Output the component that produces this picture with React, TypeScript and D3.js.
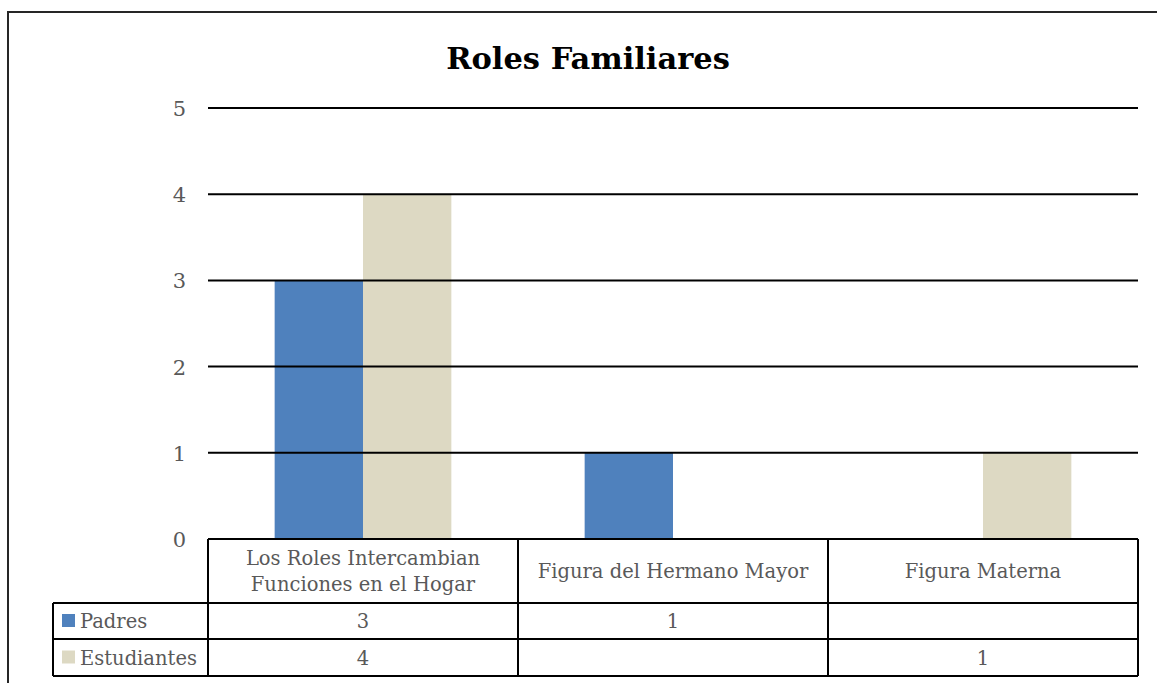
import React, { useEffect } from "react";
import * as d3 from "d3";

const categories = [
  ["Los Roles Intercambian", "Funciones en el Hogar"],
  ["Figura del Hermano Mayor"],
  ["Figura Materna"],
];
const seriesNames = ["Padres", "Estudiantes"];
const padres = [3, 1, null];
const estudiantes = [4, null, 1];
const yTicks = [0, 1, 2, 3, 4, 5];
const colors = ["#4F81BD", "#DDD9C3"];

const App = () => {
  useEffect(() => {
    document.body.style.margin = "0";
  }, []);

  const width = 1157;
  const height = 683;
  const plot = { left: 208, right: 1138, top: 108, bottom: 539 };
  const rows = [539, 603, 639, 676];
  const legendLeft = 53;
  const font = "'DejaVu Serif', 'Liberation Serif', serif";
  const textColor = "#595959";
  const fs = 19.5;

  const keys = categories.map((c, i) => "c" + i);
  const x = d3.scaleBand().domain(keys).range([plot.left, plot.right]);
  const y = d3.scaleLinear().domain([0, 5]).range([plot.bottom, plot.top]);
  const groupW = x.bandwidth() * 0.57;
  const xs = d3.scaleBand().domain(seriesNames).range([0, groupW]);
  const values = [padres, estudiantes];

  return (
    <svg width={width} height={height} style={{ display: "block" }}>
      <rect x={8} y={12} width={1180} height={700} fill="#fff" stroke="#262626" strokeWidth={2} />
      <text x={588} y={69} textAnchor="middle" fontFamily={font} fontWeight="bold" fontSize={30.5} fill="#000">
        Roles Familiares
      </text>
      {values.map((vals, si) =>
        vals.map((v, ci) =>
          v == null ? null : (
            <rect
              key={si + "-" + ci}
              x={x(keys[ci])! + (x.bandwidth() - groupW) / 2 + xs(seriesNames[si])!}
              y={y(v)}
              width={xs.bandwidth()}
              height={y(0) - y(v)}
              fill={colors[si]}
            />
          )
        )
      )}
      {yTicks.filter((t) => t > 0).map((t) => (
        <line key={t} x1={plot.left} x2={plot.right} y1={y(t)} y2={y(t)} stroke="#000" strokeWidth={2} />
      ))}
      {yTicks.map((t) => (
        <text key={t} x={186} y={y(t) + 8} textAnchor="end" fontFamily={font} fontSize={21} fill={textColor}>
          {t}
        </text>
      ))}
      {/* data table */}
      <g stroke="#000" strokeWidth={2} fill="none">
        <line x1={plot.left} x2={plot.right} y1={rows[0]} y2={rows[0]} />
        {rows.slice(1).map((r) => (
          <line key={r} x1={legendLeft} x2={plot.right} y1={r} y2={r} />
        ))}
        <line x1={legendLeft} x2={legendLeft} y1={rows[1]} y2={rows[3]} />
        {keys.map((k) => (
          <line key={k} x1={x(k)} x2={x(k)} y1={rows[0]} y2={rows[3]} />
        ))}
        <line x1={plot.right} x2={plot.right} y1={rows[0]} y2={rows[3]} />
      </g>
      {categories.map((lines, ci) =>
        lines.map((l, li) => (
          <text
            key={ci + "-" + li}
            x={x(keys[ci])! + x.bandwidth() / 2}
            y={(rows[0] + rows[1]) / 2 + 7 + (li - (lines.length - 1) / 2) * 26}
            textAnchor="middle"
            fontFamily={font}
            fontSize={fs}
            fill={textColor}
          >
            {l}
          </text>
        ))
      )}
      {seriesNames.map((s, si) => (
        <g key={s}>
          <rect x={62} y={(rows[si + 1] + rows[si + 2]) / 2 - 7} width={13} height={13} fill={colors[si]} />
          <text x={80} y={(rows[si + 1] + rows[si + 2]) / 2 + 7} fontFamily={font} fontSize={fs} fill={textColor}>
            {s}
          </text>
          {values[si].map((v, ci) =>
            v == null ? null : (
              <text
                key={ci}
                x={x(keys[ci])! + x.bandwidth() / 2}
                y={(rows[si + 1] + rows[si + 2]) / 2 + 7}
                textAnchor="middle"
                fontFamily={font}
                fontSize={fs}
                fill={textColor}
              >
                {v}
              </text>
            )
          )}
        </g>
      ))}
    </svg>
  );
};

export default App;
